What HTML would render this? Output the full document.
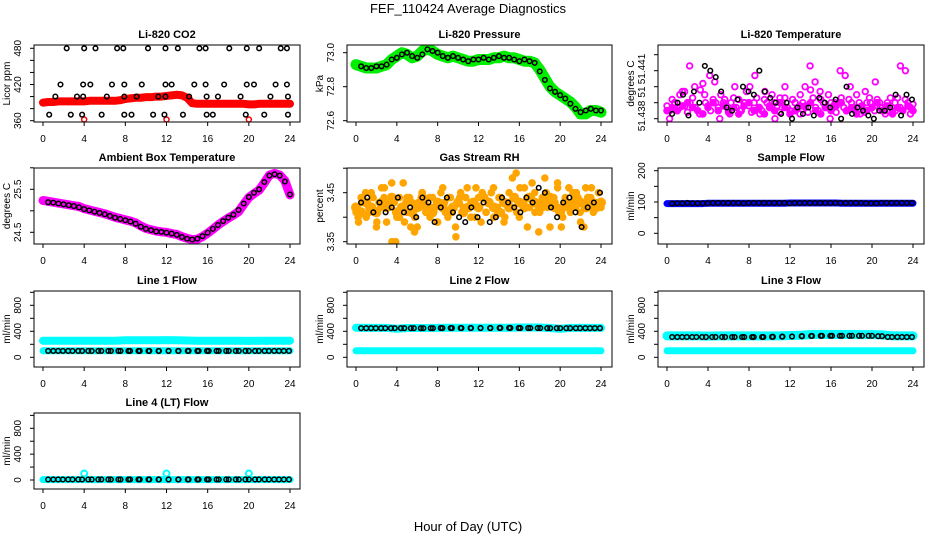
<!DOCTYPE html>
<html><head><meta charset="utf-8">
<style>
html,body{margin:0;padding:0;background:#fff;}
svg{display:block;font-family:"Liberation Sans",sans-serif;}
</style></head>
<body>
<svg id="chart" width="936" height="540" viewBox="0 0 936 540">
<text x="468" y="13" text-anchor="middle" font-size="13">FEF_110424  Average Diagnostics</text>
<text x="468" y="531" text-anchor="middle" font-size="13">Hour of Day (UTC)</text>
</svg>
<script>
// ---------- data ----------
const xTicks = [0,4,8,12,16,20,24];
// CO2
const co2Red = [390,391,391,392,392,392,392,392,392,393,393,393,393,393,393,394,396,397,398,398,399,399,400,400,401,402,403,402,398,389,388,388,388,388,388,388,388,388,388,388,387,387,388,388,388,388,388,388,388];
const co2RedOutT = [4,12,20];
const co2RedOutV = [362,362,362];
const co2BlackT = [2.3,4.0,5.1,7.2,7.8,10.2,11.9,13.1,15.2,15.8,18.1,19.8,21.0,23.1,23.7, 1.7,3.9,4.6,6.7,7.9,9.6,11.9,12.5,14.7,15.8,17.6,19.8,20.5,22.6,23.7, 1.2,3.3,3.9,6.2,7.9,9.1,11.2,11.9,14.2,15.9,17.0,19.2,22.1,23.8, 0.6,2.7,3.8,5.7,7.9,8.6,10.7,11.8,13.6,15.9,16.5,19.7,21.5,23.8];
const co2BlackV = [480,480,480,480,480,480,480,480,480,480,480,480,480,480,480, 420,420,420,420,420,420,420,420,420,420,420,420,420,420,420, 400,400,400,400,400,400,400,400,400,400,400,400,400,400, 370,370,370,370,370,370,370,370,370,370,370,370,370,370];
// Pressure
const presGreen = [72.93,72.92,72.91,72.91,72.91,72.92,72.93,72.96,72.98,73.0,72.99,72.97,72.98,73.01,73.02,73.01,72.99,72.98,72.97,72.98,72.97,72.96,72.95,72.95,72.96,72.96,72.96,72.97,72.97,72.98,72.97,72.97,72.96,72.95,72.95,72.94,72.90,72.85,72.80,72.77,72.75,72.73,72.71,72.68,72.64,72.64,72.66,72.66,72.65];
const presBlack = [72.92,72.91,72.91,72.92,72.92,72.93,72.96,72.97,72.99,73.0,72.98,72.97,72.99,73.02,73.01,73.0,72.98,72.97,72.98,72.97,72.96,72.95,72.96,72.96,72.97,72.96,72.97,72.98,72.97,72.97,72.96,72.95,72.96,72.95,72.94,72.89,72.84,72.79,72.77,72.75,72.73,72.70,72.67,72.65,72.66,72.67,72.66,72.66];
// Li-820 temperature
const tempMagA = [51.4388,51.4385,51.4392,51.4390,51.4387,51.4395,51.4397,51.4388,51.4384,51.4390,51.4393,51.4387,51.4385,51.4398,51.4402,51.4390,51.4388,51.4385,51.4392,51.4390,51.4387,51.4395,51.4390,51.4388,51.4384,51.4390,51.4393,51.4387,51.4392,51.4385,51.4390,51.4397,51.4388,51.4384,51.4390,51.4393,51.4387,51.4385,51.4392,51.4390,51.4387,51.4395,51.4390,51.4388,51.4384,51.4390,51.4393,51.4387,51.4385,51.4392,51.4390,51.4387,51.4395,51.4390,51.4388,51.4384,51.4398,51.4393,51.4387,51.4385,51.4392,51.4390,51.4387,51.4395,51.4390,51.4388,51.4384,51.4390,51.4393,51.4387,51.4385,51.4392,51.4390,51.4387,51.4395,51.4390,51.4388,51.4384,51.4390,51.4393,51.4387,51.4385,51.4392,51.4390,51.4387,51.4385,51.4390,51.4388,51.4384,51.4390,51.4393,51.4387,51.4385,51.4392,51.4390,51.4387,51.4389];
const tempMagB = [51.4380,51.4390,51.4387,51.4397,51.4413,51.4400,51.4383,51.4395,51.4407,51.4403,51.4380,51.4392,51.4383,51.4400,51.4385,51.4390,51.4400,51.4407,51.4383,51.4397,51.4387,51.4380,51.4393,51.4400,51.4385,51.4390,51.4383,51.4400,51.4413,51.4403,51.4397,51.4387,51.4380,51.4390,51.4410,51.4407,51.4400,51.4385,51.4383,51.4397,51.4390,51.4403,51.4387,51.4383,51.4393,51.4385,51.4413,51.4410,51.4383];
const tempMagC = [51.4385,51.4387,51.4385,51.4388,51.4390,51.4387,51.4385,51.4383,51.4387,51.4390,51.4385,51.4388,51.4385,51.4387,51.4383,51.4388,51.4390,51.4385,51.4387,51.4383,51.4388,51.4385,51.4390,51.4387,51.4383,51.4385,51.4388,51.4387,51.4390,51.4385,51.4383,51.4387,51.4385,51.4388,51.4390,51.4385,51.4387,51.4383,51.4388,51.4385,51.4387,51.4390,51.4385,51.4388,51.4383,51.4387,51.4385,51.4388,51.4385];
const tempBlack = [51.4383,51.4390,51.4395,51.4382,51.4397,51.4390,51.4413,51.4410,51.4406,51.4397,51.4387,51.4385,51.4392,51.4400,51.4397,51.4395,51.4410,51.4397,51.4393,51.4390,51.4383,51.4390,51.4380,51.4387,51.4383,51.4387,51.4382,51.4393,51.4390,51.4387,51.4392,51.4380,51.4400,51.4383,51.4387,51.4385,51.4382,51.4380,51.4385,51.4385,51.4387,51.4395,51.4382,51.4395,51.4392];
// Ambient box temperature
const ambMag = [25.24,25.22,25.20,25.18,25.16,25.14,25.12,25.10,25.05,25.02,24.99,24.96,24.93,24.89,24.85,24.82,24.79,24.76,24.72,24.65,24.59,24.56,24.53,24.51,24.50,24.47,24.45,24.40,24.36,24.33,24.34,24.40,24.48,24.57,24.67,24.75,24.83,24.90,24.98,25.15,25.31,25.40,25.48,25.65,25.83,25.87,25.83,25.70,25.37];
const ambBlack = [25.20,25.19,25.17,25.15,25.13,25.11,25.08,25.04,25.01,24.98,24.95,24.92,24.88,24.84,24.81,24.78,24.75,24.70,24.63,24.58,24.55,24.52,24.51,24.49,24.47,24.44,24.39,24.35,24.33,24.35,24.41,24.49,24.58,24.67,24.76,24.84,24.91,25.02,25.17,25.32,25.42,25.50,25.67,25.82,25.85,25.82,25.68,25.38];
// Gas stream RH
const rhOrangeA = [3.41,3.39,3.44,3.43,3.40,3.42,3.45,3.41,3.38,3.43,3.46,3.44,3.39,3.42,3.47,3.43,3.40,3.44,3.42,3.39,3.41,3.44,3.43,3.40,3.38,3.42,3.45,3.43,3.41,3.40,3.44,3.42,3.39,3.43,3.46,3.41,3.40,3.44,3.42,3.38,3.43,3.45,3.41,3.44,3.42,3.40,3.43,3.46,3.42,3.39,3.44,3.41,3.43,3.45,3.40,3.42,3.44,3.41,3.39,3.43,3.45,3.42,3.44,3.41,3.40,3.43,3.46,3.44,3.42,3.47,3.45,3.43,3.41,3.44,3.48,3.42,3.38,3.44,3.43,3.46,3.42,3.40,3.44,3.43,3.41,3.45,3.42,3.44,3.39,3.43,3.46,3.42,3.44,3.41,3.43,3.45,3.42];
const rhOrangeB = [3.40,3.43,3.45,3.41,3.44,3.39,3.42,3.46,3.43,3.35,3.35,3.40,3.47,3.44,3.38,3.37,3.43,3.45,3.41,3.44,3.42,3.39,3.45,3.43,3.44,3.41,3.36,3.44,3.42,3.46,3.43,3.40,3.44,3.45,3.41,3.43,3.46,3.42,3.44,3.40,3.43,3.48,3.49,3.46,3.43,3.38,3.44,3.41,3.37,3.42,3.45,3.43,3.44,3.47,3.38,3.42,3.46,3.43,3.45,3.41,3.38,3.44,3.46,3.43,3.42];
const rhOrangeC = [3.42,3.41,3.43,3.42,3.41,3.43,3.42,3.44,3.41,3.42,3.43,3.41,3.42,3.44,3.42,3.41,3.43,3.42,3.41,3.42,3.43,3.41,3.42,3.43,3.42,3.44,3.43,3.42,3.41,3.43,3.42,3.44,3.43,3.42,3.44,3.43,3.42,3.43,3.44,3.42,3.41,3.43,3.42,3.44,3.43,3.42,3.43,3.42,3.43];
const rhBlack = [3.43,3.44,3.41,3.43,3.41,3.42,3.44,3.41,3.42,3.40,3.44,3.43,3.39,3.42,3.44,3.41,3.40,3.39,3.42,3.40,3.43,3.39,3.40,3.44,3.43,3.42,3.41,3.44,3.43,3.46,3.45,3.42,3.40,3.43,3.44,3.41,3.38,3.42,3.43,3.45];
// Sample flow
const sampleBlue = [95,95,95,95,95,95,95,95,96,96,96,96,96,96,96,96,96,96,96,96,96,96,96,96,97,97,97,97,97,97,97,97,97,97,96,96,96,96,96,96,96,96,96,96,96,96,96,96,96];
const sampleBlack = [95,96,96,97,96,96,96,96,97,97,97,97,97,97,96,97,97,97,97,97,97,97,97,96,97,97,97,97,97,97,97,97,97,97,97,97,97,97,96,96,96,97,97,97,97,97,97,97];
// Line flows
const line1CyanHigh = [255,255,255,255,255,255,255,255,262,262,262,262,265,262,258,255,255,255,255,255,252,255,255,255,255];
const line1CyanLow = [100,100,100,100,100,100,100,100,100,100,100,100,100,100,100,100,100,100,100,100,100,100,100,100,100];
const line1Black = [98,98,98,98,98,98,98,98,98,98,98,98,98,98,98,98,98,98,98,98,98,98,98,98,98];
const line2CyanHigh = [455,452,452,452,440,450,450,450,452,455,455,455,455,455,455,455,458,458,458,450,440,452,452,452,452];
const line2CyanLow = [100,100,100,100,100,100,100,100,100,100,100,100,100,100,100,100,100,100,100,100,100,100,100,100,100];
const line2Black = [448,448,448,448,448,448,448,448,450,450,450,450,450,450,452,452,450,450,450,448,448,448,448,448,448];
const line3CyanHigh = [330,330,330,330,325,330,330,330,330,330,330,330,335,340,348,350,350,350,350,348,348,345,330,330,330];
const line3CyanLow = [100,100,100,100,100,100,100,100,100,100,100,100,100,100,100,100,100,100,100,100,100,100,100,100,100];
const line3Black = [312,312,312,312,312,312,312,312,312,312,315,318,320,325,328,330,330,330,330,330,330,325,312,312,312];
const line4Cyan = [5,5,5,5,5,5,5,5,5,5,5,5,5,5,5,5,5,5,5,5,5,5,5,5,5];
const line4Black = [8,8,8,8,8,8,8,8,8,8,8,8,8,8,8,8,8,8,8,8,8,8,8,8,8];
const line4SpikeT = [4,12,20];
const line4SpikeV = [100,100,100];

// ---------- drawing ----------
const svg = document.getElementById('chart');
const NS = 'http://www.w3.org/2000/svg';
function mk(tag, attrs, parent) {
  const e = document.createElementNS(NS, tag);
  for (const k in attrs) e.setAttribute(k, attrs[k]);
  (parent || svg).appendChild(e);
  return e;
}
const cols = [{l:34,r:300,x0:43,x24:290},{l:347,r:612,x0:356,x24:601},{l:658,r:924,x0:667,x24:913}];
const rows = [{t:45,b:122},{t:168,b:244},{t:291,b:367},{t:413,b:489}];

function panel(name, title, ylab, c, r, yA, yB, ticks, labels) {
  const col = cols[c], row = rows[r];
  const g = mk('g', {});
  
  
  const xs = h => col.x0 + (col.x24 - col.x0) * h / 24;
  const ys = v => yA[1] + (yB[1] - yA[1]) * (v - yA[0]) / (yB[0] - yA[0]);
  const t = mk('text', {x:(col.l+col.r)/2, y:row.t-7, 'text-anchor':'middle', 'font-size':11, 'font-weight':'bold'}, g);
  t.textContent = title;
  
  
  const cp = mk('clipPath', {id:'clip-' + name}, g);
  mk('rect', {x:col.l, y:row.t, width:col.r-col.l, height:row.b-row.t}, cp);
  const plot = mk('g', {'clip-path':'url(#clip-' + name + ')'}, g);
  
  
  const box = mk('rect', {x:col.l, y:row.t, width:col.r-col.l, height:row.b-row.t, fill:'none', stroke:'#000', 'stroke-width':1}, g);
  
  
  const xa = mk('g', {}, g);
  
  
  xTicks.forEach(h => {
    mk('line', {x1:xs(h), x2:xs(h), y1:row.b, y2:row.b+4, stroke:'#000'}, xa);
    const tx = mk('text', {x:xs(h), y:row.b+20, 'text-anchor':'middle', 'font-size':10}, xa);
    tx.textContent = h;
  });
  const ya = mk('g', {}, g);
  
  
  ticks.forEach(v => {
    mk('line', {x1:col.l-4, x2:col.l, y1:ys(v), y2:ys(v), stroke:'#000'}, ya);
  });
  labels.forEach(L => {
    const yy = L.y !== undefined ? L.y : ys(L.v);
    const tx = mk('text', {x:0, y:0, 'text-anchor':'middle', 'font-size':10, transform:`translate(${col.l-13},${yy}) rotate(-90)`}, ya);
    tx.textContent = L.t;
  });
  const yl = mk('text', {x:0, y:0, 'text-anchor':'middle', 'font-size':10, transform:`translate(${col.l-24},${(row.t+row.b)/2}) rotate(-90)`}, g);
  yl.textContent = ylab;
  
  
  return {xs, ys, plot};
}
function tAt(i, n, s, e) { return n > 1 ? s + (e - s) * i / (n - 1) : s; }
function band(P, vals, color, w, name) {
  const n = vals.length;
  const pts = vals.map((v, i) => P.xs(tAt(i, n, 0, 24)) + ',' + P.ys(v)).join(' ');
  const pl = mk('polyline', {points:pts, fill:'none', stroke:color, 'stroke-width':w, 'stroke-linecap':'round', 'stroke-linejoin':'round'}, P.plot);
  
  
}
function circles(P, vals, color, r, sw, name, tStart, tEnd, fill) {
  const n = vals.length;
  const s = tStart === undefined ? 0 : tStart, e = tEnd === undefined ? 24 : tEnd;
  vals.forEach((v, i) => {
    const c = mk('circle', {cx:P.xs(tAt(i, n, s, e)), cy:P.ys(v), r:r, fill:fill || 'none', stroke:color, 'stroke-width':sw}, P.plot);
    
    
  });
}
function circlesT(P, ts, vals, color, r, sw, name) {
  vals.forEach((v, i) => {
    const c = mk('circle', {cx:P.xs(ts[i]), cy:P.ys(v), r:r, fill:'none', stroke:color, 'stroke-width':sw}, P.plot);
    
    
  });
}

// CO2
let P = panel('co2', 'Li-820 CO2', 'Licor ppm', 0, 0, [360,120.7], [480,48.3], [360,380,400,420,440,460,480], [{v:360,t:'360'},{v:420,t:'420'},{v:480,t:'480'}]);
band(P, co2Red, '#ff0000', 8, 'co2-band');
circlesT(P, co2RedOutT, co2RedOutV, '#ff0000', 2.5, 1.5, 'co2-outlier-point');
circlesT(P, co2BlackT, co2BlackV, '#000', 2.3, 1.5, 'co2-average-point');
// Pressure
P = panel('pressure', 'Li-820 Pressure', 'kPa', 1, 0, [72.6,120.7], [73.0,52.7], [72.6,72.8,73.0], [{v:72.6,t:'72.6'},{v:72.8,t:'72.8'},{v:73.0,t:'73.0'}]);
band(P, presGreen, '#00ee00', 11, 'pressure-band');
circles(P, presBlack, '#000', 2.3, 1.5, 'pressure-average-point', 0.5, 24);
// Li-820 temperature
P = panel('li820-temp', 'Li-820 Temperature', 'degrees C', 2, 0, [51.438,118.7], [51.441,70.7], [51.438,51.439,51.440,51.441,51.442], [{y:116,t:'51.438'},{y:92,t:'51'},{y:69,t:'51.441'}]);
circles(P, tempMagC, '#ff00ff', 2.8, 2, 'li820-temp-point', 0, 24, '#ff00ff');
circles(P, tempMagA, '#ff00ff', 2.8, 1.8, 'li820-temp-point');
circles(P, tempMagB, '#ff00ff', 2.8, 1.8, 'li820-temp-point', 0.25, 23.75);
circles(P, tempBlack, '#000', 2.3, 1.5, 'li820-temp-average-point', 0.5, 23.9);
// Ambient
P = panel('ambient-temp', 'Ambient Box Temperature', 'degrees C', 0, 1, [24.5,232.3], [25.5,189.3], [24.5,25.0,25.5,26.0], [{v:24.5,t:'24.5'},{v:25.5,t:'25.5'}]);
band(P, ambMag, '#ff00ff', 9, 'ambient-band');
circles(P, ambBlack, '#000', 2.3, 1.5, 'ambient-average-point', 0.5, 24);
// RH
P = panel('gas-rh', 'Gas Stream RH', 'percent', 1, 1, [3.35,241.7], [3.45,192.7], [3.35,3.40,3.45,3.50], [{v:3.35,t:'3.35'},{v:3.45,t:'3.45'}]);
circles(P, rhOrangeC, '#ffa500', 3.5, 3, 'rh-point', 0, 24, '#ffa500');
circles(P, rhOrangeA, '#ffa500', 2.8, 2, 'rh-point', 0, 24, '#ffa500');
circles(P, rhOrangeB, '#ffa500', 2.8, 2, 'rh-point', 0.2, 23.8, '#ffa500');
circles(P, rhBlack, '#000', 2.3, 1.5, 'rh-average-point', 0.5, 23.9);
// Sample flow
P = panel('sample-flow', 'Sample Flow', 'ml/min', 2, 1, [0,233.3], [200,170.7], [0,50,100,150,200], [{v:0,t:'0'},{v:100,t:'100'},{v:200,t:'200'}]);
band(P, sampleBlue, '#0000ff', 7, 'sample-flow-band');
circles(P, sampleBlack, '#000', 2.3, 1.5, 'sample-flow-average-point', 0.5, 23.9);
// Line flows
const lineTicks = [0,200,400,600,800,1000];
const lineLabels = [{v:0,t:'0'},{v:400,t:'400'},{v:800,t:'800'}];
P = panel('line1-flow', 'Line 1 Flow', 'ml/min', 0, 2, [0,357.3], [800,305.3], lineTicks, lineLabels);
band(P, line1CyanHigh, '#00ffff', 8, 'line1-high-band');
band(P, line1CyanLow, '#00ffff', 7, 'line1-low-band');
circles(P, line1Black, '#000', 2.3, 1.5, 'line1-average-point', 0.5, 23.9);
circles(P, line1Black, '#000', 2.3, 1.5, 'line1-average-point', 1.0, 23.4);
P = panel('line2-flow', 'Line 2 Flow', 'ml/min', 1, 2, [0,357.3], [800,305.3], lineTicks, lineLabels);
band(P, line2CyanHigh, '#00ffff', 8, 'line2-high-band');
band(P, line2CyanLow, '#00ffff', 7, 'line2-low-band');
circles(P, line2Black, '#000', 2.3, 1.5, 'line2-average-point', 0.5, 23.9);
circles(P, line2Black, '#000', 2.3, 1.5, 'line2-average-point', 1.0, 23.4);
P = panel('line3-flow', 'Line 3 Flow', 'ml/min', 2, 2, [0,357.3], [800,305.3], lineTicks, lineLabels);
band(P, line3CyanHigh, '#00ffff', 9, 'line3-high-band');
band(P, line3CyanLow, '#00ffff', 7, 'line3-low-band');
circles(P, line3Black, '#000', 2.3, 1.5, 'line3-average-point', 0.5, 23.9);
circles(P, line3Black, '#000', 2.3, 1.5, 'line3-average-point', 1.0, 23.4);
P = panel('line4-flow', 'Line 4 (LT) Flow', 'ml/min', 0, 3, [0,480], [800,428.3], lineTicks, lineLabels);
band(P, line4Cyan, '#00ffff', 7, 'line4-band');
circlesT(P, line4SpikeT, line4SpikeV, '#00ffff', 3, 2, 'line4-spike-point');
circles(P, line4Black, '#000', 2.3, 1.5, 'line4-average-point', 0.5, 23.9);
circles(P, line4Black, '#000', 2.3, 1.5, 'line4-average-point', 1.0, 23.4);
</script>
</body></html>
